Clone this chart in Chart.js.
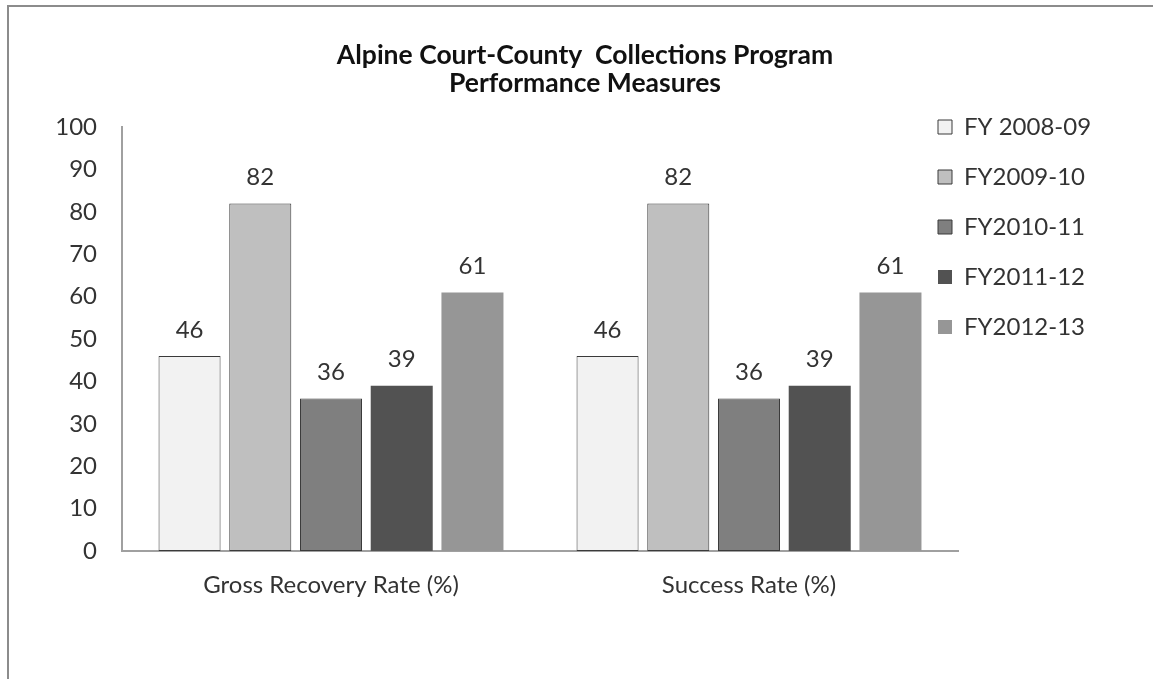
<!DOCTYPE html>
<html lang="en">
<head>
    <meta charset="UTF-8">
    <title>Alpine Court-County Collections Program</title>
    <style>
        html, body {
            margin: 0;
            padding: 0;
            background: #fff;
            overflow: hidden;
        }
        .wrap {
            position: relative;
            width: 1153px;
            height: 679px;
        }
        .frame {
            position: absolute;
            left: 7px;
            top: 5px;
            width: 2000px;
            height: 2000px;
            border-left: 2px solid #8c8c8c;
            border-top: 2px solid #8c8c8c;
        }
        canvas {
            position: absolute;
            left: 0;
            top: 0;
        }
    </style>
</head>
<body>
    <div class="wrap">
        <div class="frame"></div>
        <canvas id="chart" width="1153" height="679"></canvas>
    </div>

    <script src="https://cdn.jsdelivr.net/npm/chart.js"></script>

    <script>
        // data
        const categories = ['Gross Recovery Rate (%)', 'Success Rate (%)'];
        const seriesNames = ['FY 2008-09', 'FY2009-10', 'FY2010-11', 'FY2011-12', 'FY2012-13'];
        const fy0809 = [46, 46];
        const fy0910 = [82, 82];
        const fy1011 = [36, 36];
        const fy1112 = [39, 39];
        const fy1213 = [61, 61];
        const yTicks = [0, 10, 20, 30, 40, 50, 60, 70, 80, 90, 100];
        const titleLines = ['Alpine Court-County  Collections Program', 'Performance Measures'];

        const fills = ['#f2f2f2', '#bfbfbf', '#7f7f7f', '#525252', '#969696'];
        const edges = [1, 1, 1, 0, 0];
        const values = [fy0809, fy0910, fy1011, fy1112, fy1213];

        const FONT = 'Lato, "Noto Sans", sans-serif';

        // value labels above each bar
        const valueLabels = {
            id: 'valueLabels',
            afterDatasetsDraw(chart) {
                const ctx = chart.ctx;
                ctx.save();
                ctx.font = '24px ' + FONT;
                ctx.fillStyle = '#333333';
                ctx.textAlign = 'center';
                ctx.textBaseline = 'middle';
                chart.data.datasets.forEach((ds, i) => {
                    chart.getDatasetMeta(i).data.forEach((bar, j) => {
                        ctx.fillText(String(ds.data[j]), bar.x, bar.y - 26);
                    });
                });
                ctx.restore();
            }
        };

        // legend sits partly over the empty right end of the plot, like the original
        const legendSpot = {
            id: 'legendSpot',
            afterLayout(chart) {
                const lg = chart.legend;
                const h = lg.height;
                lg.left = 912;
                lg.width = 235;
                lg.right = 912 + 235;
                lg.top = 89;
                lg.bottom = 89 + h;
            }
        };

        const ctx = document.getElementById('chart').getContext('2d');
        const chart = new Chart(ctx, {
            type: 'bar',
            data: {
                labels: categories,
                datasets: seriesNames.map((name, i) => ({
                    label: name,
                    data: values[i],
                    backgroundColor: fills[i],
                    borderColor: '#3a3a3a',
                    borderWidth: edges[i],
                    borderSkipped: false,
                    categoryPercentage: 0.846,
                    barPercentage: 0.877
                }))
            },
            plugins: [valueLabels, legendSpot],
            options: {
                responsive: false,
                animation: false,
                layout: {
                    padding: { left: 45, right: 28, top: 0, bottom: 68 }
                },
                plugins: {
                    title: {
                        display: true,
                        text: titleLines,
                        color: '#111111',
                        font: { family: FONT, size: 26.5, weight: 'bold', lineHeight: 1.06 },
                        padding: { top: 41, bottom: 30 }
                    },
                    legend: {
                        position: 'right',
                        align: 'start',
                        maxWidth: 167,
                        labels: {
                            color: '#333333',
                            font: { family: FONT, size: 24 },
                            boxWidth: 14,
                            boxHeight: 14,
                            padding: 26
                        }
                    },
                    tooltip: { enabled: false }
                },
                scales: {
                    x: {
                        grid: { display: false, drawTicks: false },
                        border: { display: true, color: '#a0a0a0', width: 2 },
                        ticks: {
                            color: '#333333',
                            font: { family: FONT, size: 24 },
                            padding: 20
                        },
                        afterFit(s) { s.height = 60; }
                    },
                    y: {
                        min: 0,
                        max: 100,
                        grid: { display: false, drawTicks: false },
                        border: { display: true, color: '#a0a0a0', width: 2 },
                        ticks: {
                            color: '#333333',
                            font: { family: FONT, size: 24 },
                            padding: 25
                        },
                        afterBuildTicks(s) { s.ticks = yTicks.map(v => ({ value: v })); },
                        afterFit(s) { s.width = 77; }
                    }
                }
            }
        });
    </script>
</body>
</html>
